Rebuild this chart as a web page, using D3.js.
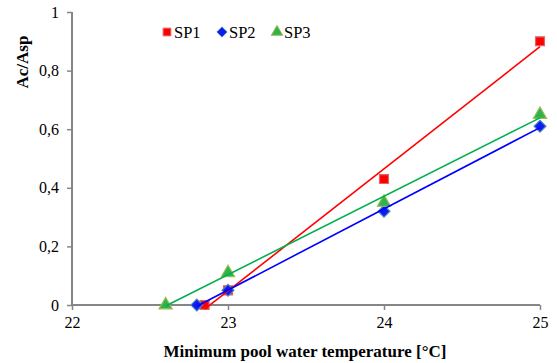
<!DOCTYPE html>
<html>
<head>
<meta charset="utf-8">
<script src="https://cdn.jsdelivr.net/npm/d3@7"></script>
<style>
  body { margin: 0; background: #fff; }
  svg text { font-family: "Liberation Serif", "Times New Roman", Tinos, serif !important; }
</style>
</head>
<body>
<div id="chart"></div>
<script>
// ------------ DATA ------------
var seriesNames = ["SP1", "SP2", "SP3"];
var sp1Temp = [22.85, 23, 24, 25];
var sp1Ratio = [0, 0.05, 0.43, 0.90];
var sp2Temp = [22.8, 23, 24, 25];
var sp2Ratio = [0, 0.05, 0.32, 0.61];
var sp3Temp = [22.6, 23, 24, 25];
var sp3Ratio = [0, 0.11, 0.35, 0.65];
var xTicks = [22, 23, 24, 25];
var yTicks = [0, 0.2, 0.4, 0.6, 0.8, 1];

// SVG area
var svgWidth = 557;
var svgHeight = 363;
var margin = { top: 12, right: 17, bottom: 58, left: 72 };
var chartWidth = svgWidth - margin.left - margin.right;
var chartHeight = svgHeight - margin.top - margin.bottom;
var serif = "'Liberation Serif', 'Times New Roman', serif";

var svg = d3.select("#chart")
  .append("svg")
  .attr("width", svgWidth)
  .attr("height", svgHeight)
  .attr("font-family", serif);

var chartGroup = svg.append("g")
  .attr("transform", `translate(${margin.left}, ${margin.top})`);

// ------------ SCALES / AXES ------------
var x = d3.scaleLinear().domain([22, 25]).range([0, chartWidth]);
var y = d3.scaleLinear().domain([0, 1]).range([chartHeight, 0]);

var fmt = function(d) { return d3.format("~g")(d).replace(".", ","); };

var leftAxis = d3.axisLeft(y).tickValues(yTicks).tickSize(5).tickPadding(8).tickFormat(fmt);
var bottomAxis = d3.axisBottom(x).tickValues(xTicks).tickSize(5).tickPadding(7).tickFormat(d3.format("d"));

var gy = chartGroup.append("g").call(leftAxis);
var gx = chartGroup.append("g")
  .attr("transform", "translate(0," + chartHeight + ")")
  .call(bottomAxis);

[gx, gy].forEach(function(g) {
  g.attr("font-family", serif).attr("font-size", 16);
  g.select(".domain").attr("stroke", "#868686").attr("stroke-width", 2);
  g.selectAll(".tick line").attr("stroke", "#868686").attr("stroke-width", 1.5);
  g.selectAll(".tick text").attr("fill", "#000");
});
// remove outer tick ends
gy.select(".domain").attr("d", "M0," + chartHeight + "V0");
gx.select(".domain").attr("d", "M0,0H" + chartWidth);

// ------------ SERIES ------------
var diamond = { draw: function(ctx, size) {
  var r = Math.sqrt(size / 2);
  ctx.moveTo(0, -r); ctx.lineTo(r, 0); ctx.lineTo(0, r); ctx.lineTo(-r, 0); ctx.closePath();
} };

var series = [
  { name: seriesNames[0], xs: sp1Temp, ys: sp1Ratio, line: "#ff0000", fill: "#ff0000", edge: "#e06666", shape: d3.symbolSquare, size: 80 },
  { name: seriesNames[1], xs: sp2Temp, ys: sp2Ratio, line: "#0000ff", fill: "#0a1ef0", edge: "#4f81bd", shape: diamond, size: 70 },
  { name: seriesNames[2], xs: sp3Temp, ys: sp3Ratio, line: "#00b050", fill: "#2fb34a", edge: "#9bbb59", shape: d3.symbolTriangle, size: 75 }
];

// linear trendline (least squares) over each series' data range
function trend(s) {
  var pts = s.xs.map(function(v, i) { return [v, s.ys[i]]; });
  var mx = d3.mean(pts, d => d[0]);
  var my = d3.mean(pts, d => d[1]);
  var sxy = d3.sum(pts, d => (d[0] - mx) * (d[1] - my));
  var sxx = d3.sum(pts, d => (d[0] - mx) * (d[0] - mx));
  var b = sxy / sxx, a = my - b * mx;
  var x0 = d3.min(s.xs), x1 = d3.max(s.xs);
  return [[x0, a + b * x0], [x1, a + b * x1]];
}

series.forEach(function(s) {
  chartGroup.append("g")
    .selectAll("path")
    .data(s.xs.map(function(v, i) { return [v, s.ys[i]]; }))
    .enter()
    .append("path")
      .attr("transform", d => `translate(${x(d[0])},${y(d[1])})`)
      .attr("d", d3.symbol().type(s.shape).size(s.size))
      .attr("fill", s.fill)
      .attr("stroke", s.edge)
      .attr("stroke-width", 1.2);
});

var lineGen = d3.line().x(d => x(d[0])).y(d => y(d[1]));
series.forEach(function(s) {
  chartGroup.append("path")
    .datum(trend(s))
    .attr("d", lineGen)
    .attr("fill", "none")
    .attr("stroke", s.line)
    .attr("stroke-width", 1.6);
});

// ------------ LABELS ------------
svg.append("text")
  .attr("x", 305)
  .attr("y", 357)
  .attr("text-anchor", "middle")
  .attr("font-size", 17)
  .attr("font-weight", "bold")
  .text("Minimum pool water temperature [°C]");

svg.append("text")
  .attr("transform", "translate(28,62) rotate(-90)")
  .attr("text-anchor", "middle")
  .attr("font-size", 17)
  .attr("font-weight", "bold")
  .text("Ac/Asp");

// ------------ LEGEND ------------
var legend = svg.append("g").attr("transform", "translate(167,32)");
var legendItems = legend.selectAll("g")
  .data(series)
  .enter()
  .append("g")
  .attr("transform", (d, i) => `translate(${i * 55},0)`);

legendItems.append("path")
  .attr("d", d => d3.symbol().type(d.shape).size(d.size * 0.75)())
  .attr("fill", d => d.fill)
  .attr("stroke", d => d.edge)
  .attr("stroke-width", 1);

legendItems.append("text")
  .attr("x", 7)
  .attr("y", 5.5)
  .attr("font-size", 16.5)
  .text(d => d.name);
</script>
</body>
</html>
